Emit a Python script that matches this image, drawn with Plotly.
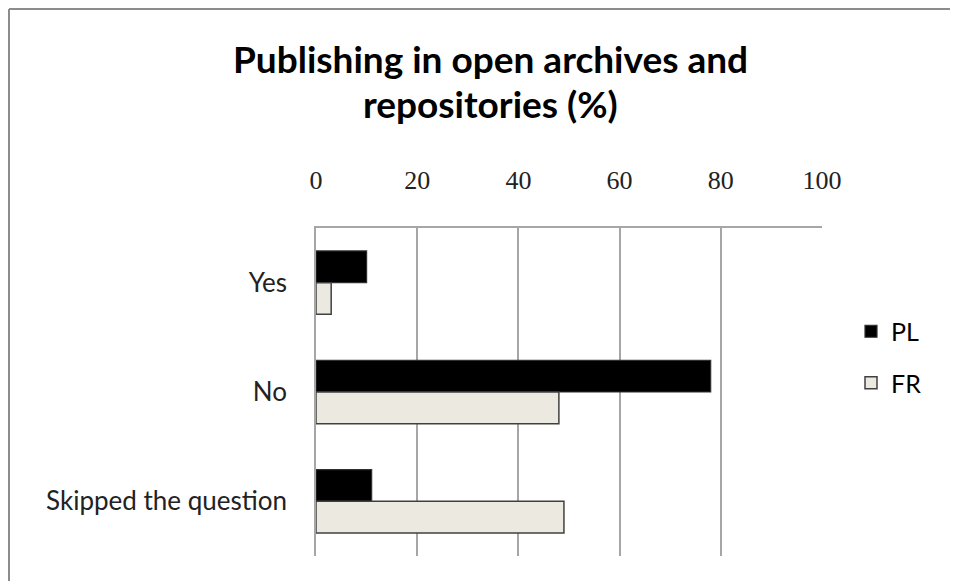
import plotly.graph_objects as go

categories = ["Yes", "No", "Skipped the question"]
pl_values = [10, 78, 11]
fr_values = [3, 48, 49]
tick_vals = [0, 20, 40, 60, 80, 100]
title_lines = ["Publishing in open archives and", "repositories (%)"]

# page body has an 8px margin, so the figure is sized to fit inside the window
W, H = 950, 573
L, R, T, B = 308, 136, 220, 25
pw, ph = W - L - R, H - T - B

fig = go.Figure()
fig.add_trace(go.Bar(
    y=categories, x=pl_values, name="PL", orientation="h",
    marker=dict(color="#000000", line=dict(color="#303030", width=1.2)),
    legendgroup="PL",
))
fig.add_trace(go.Bar(
    y=categories, x=fr_values, name="FR", orientation="h",
    marker=dict(color="#ECEAE0", line=dict(color="#404040", width=1.5)),
    legendgroup="FR",
))

# outer border (left and top edges visible)
bx = (1 - L) / pw
by = 1 + (T - 1) / ph
fig.add_shape(type="line", xref="paper", yref="paper", x0=bx, x1=2, y0=by, y1=by,
              line=dict(color="#8c8c8c", width=2))
fig.add_shape(type="line", xref="paper", yref="paper", x0=bx, x1=bx, y0=by, y1=-1,
              line=dict(color="#8c8c8c", width=2))

# two-line title as annotations (controls line spacing)
for line, yc in zip(title_lines, [50, 95]):
    fig.add_annotation(text="<b>%s</b>" % line, xref="paper", yref="paper",
                       x=(482 - L) / pw, y=1 + (T - yc) / ph,
                       xanchor="center", yanchor="middle", showarrow=False,
                       font=dict(family="Lato", size=37, color="#000000"))

fig.update_layout(
    width=W, height=H,
    margin=dict(l=L, r=R, t=T, b=B),
    paper_bgcolor="white", plot_bgcolor="white",
    barmode="group", bargap=0.42, bargroupgap=0,
    font=dict(family="Lato", size=25, color="#222222"),
    legend=dict(x=(843 - L) / pw, xanchor="left", y=(548 - 349) / ph, yanchor="middle",
                tracegroupgap=16, font=dict(family="Lato", size=25, color="#000000"),
                itemwidth=30, bgcolor="rgba(0,0,0,0)"),
    xaxis=dict(range=[0, 100], side="top", tickvals=tick_vals,
               showgrid=True, gridcolor="#a6a6a6", gridwidth=1.5,
               showline=True, linecolor="#a6a6a6", linewidth=1.5, mirror=False,
               zeroline=False, ticks="", ticklabelstandoff=27,
               tickfont=dict(family="Liberation Serif", size=26, color="#222222")),
    yaxis=dict(autorange="reversed", showline=True, linecolor="#a6a6a6", linewidth=1.5,
               ticks="", showgrid=False, ticklabelstandoff=22,
               tickfont=dict(family="Lato", size=26, color="#222222")),
)

fig.write_html("out.html")
